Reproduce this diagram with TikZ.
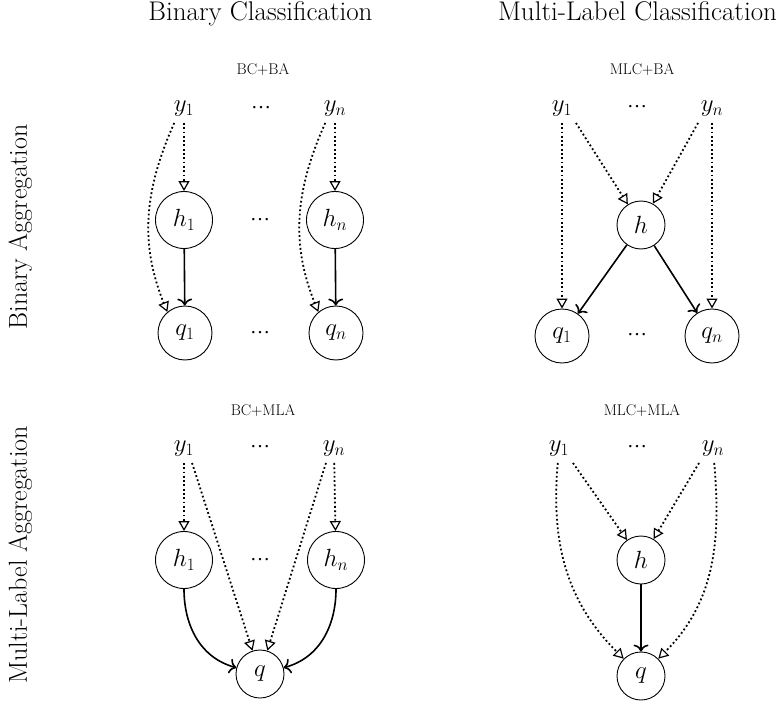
\documentclass[tikz,border=0pt]{standalone}
\usepackage{fontspec}
\usetikzlibrary{arrows.meta}
\newfontfamily\gapfam{Liberation Serif}
\DeclareMathSizes{24.88}{24.88}{17.28}{14.4}
\newcommand\mfont{\fontsize{24.88}{28}\selectfont}
\newcommand\headfont{\fontsize{27}{30}\selectfont}
\newcommand\rowfont{\fontsize{26}{30}\selectfont}
\newcommand\ttlfont{\fontsize{15.5}{18}\selectfont}
\newcommand\gapfont{\gapfam\fontsize{20}{22}\selectfont}
\begin{document}
\begin{tikzpicture}[x=1pt,y=-1pt,
  lab/.style={inner sep=6pt,font=\mfont},
  bigc/.style={circle,draw,line width=0.9pt,inner sep=0pt,minimum size=57pt,font=\mfont},
  midc/.style={bigc,minimum size=54pt},
  smallc/.style={bigc,minimum size=48pt},
  gap/.style={font=\gapfont,inner sep=0pt},
  ttl/.style={font=\ttlfont,anchor=base,inner sep=0pt},
  head/.style={font=\headfont,anchor=base,inner sep=0pt},
  rowhead/.style={font=\rowfont,anchor=base,inner sep=0pt,rotate=90},
  dep/.style={line width=1.8pt,dash pattern=on 1.8pt off 2.5pt,
    -{Triangle[open,length=10pt,width=11pt,line width=1.2pt]}},
  inf/.style={line width=1.6pt,
    -{Computer Modern Rightarrow[length=7pt,width=15pt,line width=1.6pt]}},
]
\useasboundingbox (0,0) rectangle (777,701);

% column and row headings
\node[head] (hc1) at (260.5,21) {Binary Classification};
\node[head] (hc2) at (637.5,21) {Multi-Label Classification};
\node[rowhead] (hr1) at (27,227) {Binary Aggregation};
\node[rowhead] (hr2) at (27,555) {Multi-Label Aggregation};

% BC+BA
\node[ttl] (ta) at (263,75) {BC+BA};
\node[lab] (a1) at (184,109) {$y_1$};
\node[gap] (ag1) at (261,108) {…};
\node[lab] (an) at (335,109) {$y_n$};
\node[bigc] (ah1) at (184,220) {$h_1$};
\node[gap] (ag2) at (260,220) {…};
\node[bigc] (ahn) at (335,220) {$h_n$};
\node[midc] (aq1) at (185,333) {$q_1$};
\node[gap] (ag3) at (260,333) {…};
\node[midc] (aqn) at (336,333) {$q_n$};
\draw[dep] (a1) -- (ah1);
\draw[dep] (an) -- (ahn);
\draw[dep] (a1.-125) to[out=-114,in=112] (aq1.130);
\draw[dep] (an.-125) to[out=-114,in=112] (aqn.130);
\draw[inf] (ah1) -- (aq1);
\draw[inf] (ahn) -- (aqn);

% MLC+BA
\node[ttl] (tb) at (642,75) {MLC+BA};
\node[lab] (b1) at (562,109) {$y_1$};
\node[gap] (bg1) at (637,107) {…};
\node[lab] (bn) at (712,109) {$y_n$};
\node[smallc] (bh) at (641,225) {$h$};
\node[midc] (bq1) at (562,336) {$q_1$};
\node[gap] (bg2) at (637,335) {…};
\node[midc] (bqn) at (712,336) {$q_n$};
\draw[dep] (b1) -- (bq1);
\draw[dep] (bn) -- (bqn);
\draw[dep] (b1.-45) -- (bh);
\draw[dep] (bn.-135) -- (bh);
\draw[inf] (bh) -- (bq1);
\draw[inf] (bh) -- (bqn);

% BC+MLA
\node[ttl] (tc) at (263,415) {BC+MLA};
\node[lab] (c1) at (184,449) {$y_1$};
\node[gap] (cg1) at (260,447) {…};
\node[lab] (cn) at (334,449) {$y_n$};
\node[bigc] (ch1) at (184,560) {$h_1$};
\node[gap] (cg2) at (260,560) {…};
\node[bigc] (chn) at (336,560) {$h_n$};
\node[smallc] (cq) at (260,674) {$q$};
\draw[dep] (c1) -- (ch1);
\draw[dep] (cn) -- (chn);
\draw[dep] (c1.-60) -- (cq);
\draw[dep] (cn.-120) -- (cq);
\draw[inf] (ch1) to[out=-90,in=165] (cq);
\draw[inf] (chn) to[out=-90,in=15] (cq);

% MLC+MLA
\node[ttl] (td) at (642,415) {MLC+MLA};
\node[lab] (d1) at (559,449) {$y_1$};
\node[gap] (dg1) at (637,447) {…};
\node[lab] (dn) at (713,449) {$y_n$};
\node[smallc] (dh) at (641,560) {$h$};
\node[smallc] (dq) at (641,676) {$q$};
\draw[dep] (d1.-45) -- (dh);
\draw[dep] (dn.-135) -- (dh);
\draw[dep] (d1) to[out=-95,in=135] (dq);
\draw[dep] (dn) to[out=-85,in=45] (dq);
\draw[inf] (dh) -- (dq);
\end{tikzpicture}
\end{document}
